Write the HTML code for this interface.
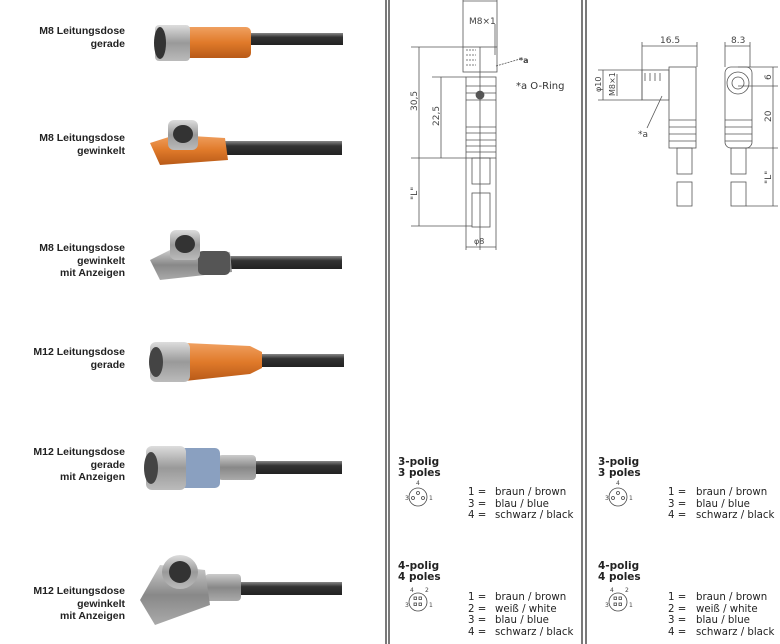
<!DOCTYPE html>
<html><head><meta charset="utf-8"><style>
body{margin:0;background:#fff;width:780px;height:644px;overflow:hidden;position:relative;font-family:"Liberation Sans",sans-serif}
.lbl{position:absolute;right:655px;text-align:right;font-weight:bold;font-size:10.5px;line-height:12.5px;color:#222;white-space:nowrap}
.t{position:absolute;font-family:"DejaVu Sans","Liberation Sans",sans-serif;color:#222;white-space:nowrap}
.h{font-weight:bold;font-size:10.5px;line-height:10.5px}
.r{font-size:10.2px;line-height:11.5px}
</style></head><body>
<div class="lbl" style="top:25px">M8 Leitungsdose<br>gerade</div>
<div class="lbl" style="top:132px">M8 Leitungsdose<br>gewinkelt</div>
<div class="lbl" style="top:242px">M8 Leitungsdose<br>gewinkelt<br>mit Anzeigen</div>
<div class="lbl" style="top:346px">M12 Leitungsdose<br>gerade</div>
<div class="lbl" style="top:446px">M12 Leitungsdose<br>gerade<br>mit Anzeigen</div>
<div class="lbl" style="top:585px">M12 Leitungsdose<br>gewinkelt<br>mit Anzeigen</div>

<svg width="780" height="644" style="position:absolute;left:0;top:0">
<defs>
<linearGradient id="cab" x1="0" y1="0" x2="0" y2="1"><stop offset="0" stop-color="#888"/><stop offset=".35" stop-color="#333"/><stop offset="1" stop-color="#222"/></linearGradient>
<linearGradient id="or" x1="0" y1="0" x2="0" y2="1"><stop offset="0" stop-color="#f0a060"/><stop offset=".5" stop-color="#e07a2a"/><stop offset="1" stop-color="#b85a18"/></linearGradient>
<linearGradient id="me" x1="0" y1="0" x2="0" y2="1"><stop offset="0" stop-color="#ddd"/><stop offset=".5" stop-color="#999"/><stop offset="1" stop-color="#bbb"/></linearGradient>
<linearGradient id="gr" x1="0" y1="0" x2="0" y2="1"><stop offset="0" stop-color="#ccc"/><stop offset=".5" stop-color="#888"/><stop offset="1" stop-color="#aaa"/></linearGradient>
</defs>
<g stroke="#222" stroke-width="1.2"><line x1="386" y1="0" x2="386" y2="644"/><line x1="389" y1="0" x2="389" y2="644"/><line x1="582" y1="0" x2="582" y2="644"/><line x1="586" y1="0" x2="586" y2="644"/></g>

<rect x="248" y="33" width="95" height="12" fill="url(#cab)"/>
<rect x="185" y="27" width="66" height="31" rx="5" fill="url(#or)"/>
<rect x="155" y="25" width="35" height="36" rx="4" fill="url(#me)"/>
<ellipse cx="160" cy="43" rx="6" ry="16" fill="#333"/>
<rect x="222" y="141" width="120" height="14" fill="url(#cab)"/>
<path d="M150 143 L175 135 L225 138 L228 160 L160 165 Z" fill="url(#or)"/>
<rect x="168" y="120" width="30" height="30" rx="6" fill="url(#me)"/>
<ellipse cx="183" cy="134" rx="10" ry="9" fill="#333"/>
<rect x="228" y="256" width="114" height="13" fill="url(#cab)"/>
<path d="M150 260 L170 250 L230 252 L232 272 L160 280 Z" fill="url(#gr)"/>
<rect x="198" y="251" width="32" height="24" rx="5" fill="#555"/>
<rect x="170" y="230" width="30" height="30" rx="6" fill="url(#me)"/>
<ellipse cx="185" cy="244" rx="10" ry="9" fill="#333"/>
<rect x="260" y="354" width="84" height="13" fill="url(#cab)"/>
<path d="M185 343 L250 346 L262 352 L262 368 L250 374 L185 381 Z" fill="url(#or)"/>
<rect x="150" y="342" width="40" height="40" rx="6" fill="url(#me)"/>
<ellipse cx="156" cy="362" rx="7" ry="15" fill="#444"/>
<rect x="253" y="461" width="89" height="13" fill="url(#cab)"/>
<rect x="218" y="455" width="38" height="25" rx="4" fill="url(#gr)"/>
<rect x="180" y="448" width="40" height="40" rx="5" fill="#8aa0c0"/>
<rect x="146" y="446" width="40" height="44" rx="6" fill="url(#me)"/>
<ellipse cx="151" cy="468" rx="7" ry="16" fill="#444"/>
<rect x="238" y="582" width="104" height="13" fill="url(#cab)"/>
<rect x="205" y="574" width="36" height="27" rx="4" fill="url(#gr)"/>
<path d="M140 600 L160 565 L205 570 L210 605 L155 625 Z" fill="url(#gr)"/>
<ellipse cx="180" cy="572" rx="18" ry="17" fill="url(#me)"/>
<ellipse cx="180" cy="572" rx="11" ry="11" fill="#333"/>

<g stroke="#555" fill="none" stroke-width="0.8">
<line x1="463" y1="0" x2="463" y2="47"/><line x1="497" y1="0" x2="497" y2="47"/><line x1="463" y1="1" x2="497" y2="1"/>
<line x1="495" y1="24" x2="495" y2="55"/>
<rect x="463" y="47" width="34" height="25"/>
<path d="M466 50h10M466 55h10M466 60h10M466 65h10" stroke-dasharray="2 1"/>
<rect x="466" y="77" width="30" height="81"/>
<path d="M466 86h30M466 93h30M466 100h30M466 127h30M466 133h30M466 140h30M466 146h30M466 152h30"/>
<circle cx="480" cy="95" r="4" fill="#555"/>
<line x1="480" y1="47" x2="480" y2="250"/>
<rect x="472" y="158" width="18" height="26"/><rect x="472" y="193" width="18" height="34"/>
<line x1="411" y1="47" x2="463" y2="47"/><line x1="411" y1="158" x2="466" y2="158"/><line x1="411" y1="226" x2="472" y2="226"/><line x1="432" y1="77" x2="466" y2="77"/>
<line x1="419" y1="47" x2="419" y2="226"/><line x1="441" y1="77" x2="441" y2="158"/>
<line x1="466" y1="158" x2="466" y2="250"/><line x1="496" y1="158" x2="496" y2="250"/><line x1="466" y1="247" x2="496" y2="247"/>
<line x1="496" y1="66" x2="520" y2="59" stroke-dasharray="2 1"/>
</g>
<g font-family="DejaVu Sans" fill="#444" font-size="9">
<text x="469" y="24">M8×1</text>
<text x="474" y="244" font-size="8">φ8</text>
<text x="519" y="63" font-weight="bold" font-size="8">*a</text>
<text x="516" y="89" font-size="10" fill="#333">*a  O-Ring</text>
<text transform="translate(417 111) rotate(-90)" font-size="9">30,5</text>
<text transform="translate(439 126) rotate(-90)" font-size="9">22,5</text>
<text transform="translate(417 200) rotate(-90)" font-size="9">"L"</text>
</g>

<g stroke="#555" fill="none" stroke-width="0.8">
<line x1="642" y1="46" x2="697" y2="46"/><line x1="642" y1="42" x2="642" y2="100"/><line x1="697" y1="42" x2="697" y2="67"/>
<rect x="642" y="70" width="27" height="30"/>
<path d="M645 73v8M650 73v8M655 73v8M660 73v8"/>
<rect x="669" y="67" width="27" height="81"/>
<path d="M669 120h27M669 127h27M669 134h27M669 141h27"/>
<rect x="677" y="148" width="15" height="26"/><rect x="677" y="182" width="15" height="24"/>
<line x1="598" y1="70" x2="642" y2="70"/><line x1="598" y1="100" x2="642" y2="100"/><line x1="603" y1="70" x2="603" y2="100"/><line x1="617" y1="74" x2="617" y2="96"/>
<line x1="662" y1="96" x2="647" y2="128"/>
<line x1="725" y1="46" x2="750" y2="46"/><line x1="725" y1="42" x2="725" y2="67"/><line x1="750" y1="42" x2="750" y2="67"/>
<rect x="725" y="67" width="27" height="81" rx="6"/>
<circle cx="738" cy="83" r="11"/><circle cx="738" cy="83" r="6"/>
<path d="M725 120h27M725 127h27M725 134h27M725 141h27"/>
<rect x="731" y="148" width="15" height="26"/><rect x="731" y="182" width="15" height="24"/>
<line x1="738" y1="67" x2="778" y2="67"/><line x1="738" y1="86" x2="778" y2="86"/><line x1="746" y1="148" x2="778" y2="148"/><line x1="746" y1="206" x2="778" y2="206"/>
<line x1="773" y1="67" x2="773" y2="206"/>
</g>
<g font-family="DejaVu Sans" fill="#444" font-size="9">
<text x="660" y="43">16.5</text><text x="731" y="43">8.3</text>
<text x="638" y="137">*a</text>
<text transform="translate(601 92) rotate(-90)" font-size="8">φ10</text>
<text transform="translate(615 96) rotate(-90)" font-size="8">M8×1</text>
<text transform="translate(771 80) rotate(-90)">6</text>
<text transform="translate(771 122) rotate(-90)">20</text>
<text transform="translate(771 184) rotate(-90)">"L"</text>
</g>

<g stroke="#444" fill="none" stroke-width="0.8" font-family="DejaVu Sans" font-size="6">
<g id="p3"><circle cx="418" cy="497" r="9"/><circle cx="413" cy="498" r="1.5"/><circle cx="418" cy="493" r="1.5"/><circle cx="423" cy="498" r="1.5"/>
<text x="416" y="485" fill="#444" stroke="none">4</text><text x="405" y="500" fill="#444" stroke="none">3</text><text x="429" y="500" fill="#444" stroke="none">1</text></g>
<use href="#p3" x="200"/>
<g id="p4"><circle cx="418" cy="602" r="9"/><rect x="414" y="597" width="2.5" height="2.5"/><rect x="419" y="597" width="2.5" height="2.5"/><rect x="414" y="603" width="2.5" height="2.5"/><rect x="419" y="603" width="2.5" height="2.5"/>
<text x="410" y="592" fill="#444" stroke="none">4</text><text x="425" y="592" fill="#444" stroke="none">2</text><text x="405" y="607" fill="#444" stroke="none">3</text><text x="429" y="607" fill="#444" stroke="none">1</text></g>
<use href="#p4" x="200"/>
</g>
</svg>

<div class="t h" style="left:398px;top:457px">3-polig<br>3 poles</div>
<div class="t r" style="left:468px;top:487px">1 =<br>3 =<br>4 =</div>
<div class="t r" style="left:495px;top:487px">braun / brown<br>blau / blue<br>schwarz / black</div>
<div class="t h" style="left:398px;top:561px">4-polig<br>4 poles</div>
<div class="t r" style="left:468px;top:592px">1 =<br>2 =<br>3 =<br>4 =</div>
<div class="t r" style="left:495px;top:592px">braun / brown<br>weiß / white<br>blau / blue<br>schwarz / black</div>

<div class="t h" style="left:598px;top:457px">3-polig<br>3 poles</div>
<div class="t r" style="left:668px;top:487px">1 =<br>3 =<br>4 =</div>
<div class="t r" style="left:696px;top:487px">braun / brown<br>blau / blue<br>schwarz / black</div>
<div class="t h" style="left:598px;top:561px">4-polig<br>4 poles</div>
<div class="t r" style="left:668px;top:592px">1 =<br>2 =<br>3 =<br>4 =</div>
<div class="t r" style="left:696px;top:592px">braun / brown<br>weiß / white<br>blau / blue<br>schwarz / black</div>
</body></html>
